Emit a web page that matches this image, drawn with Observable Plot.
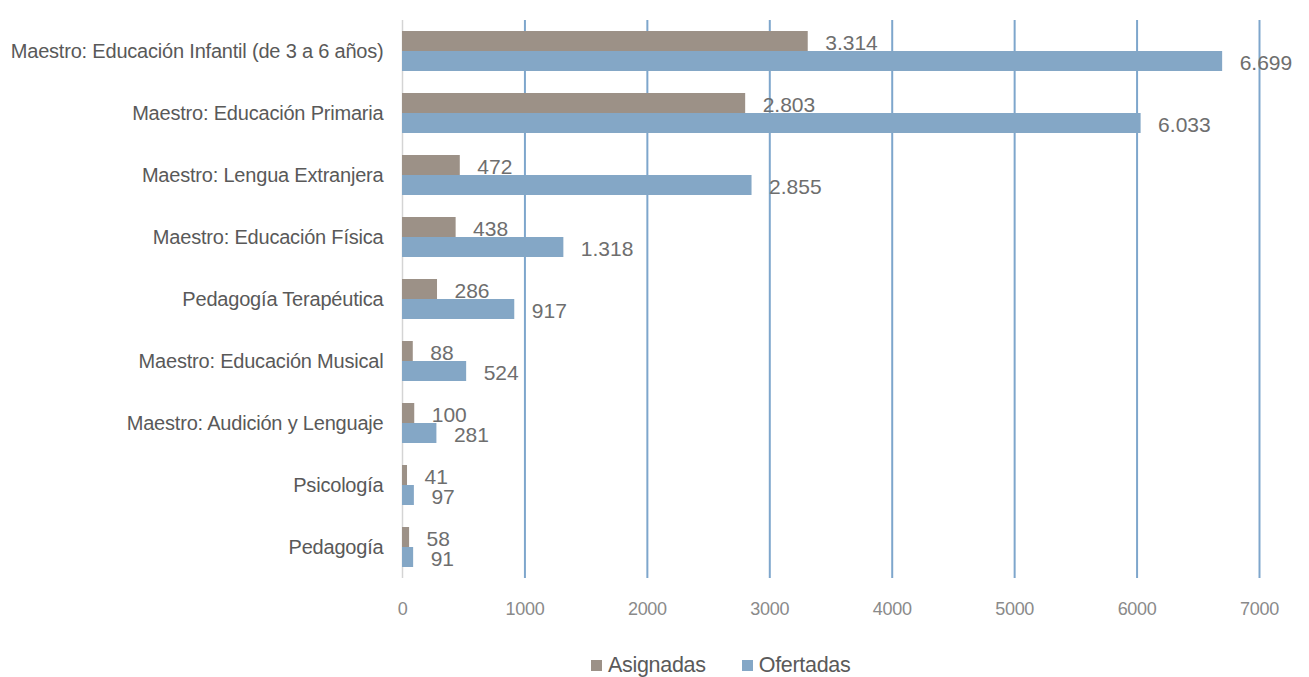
<!DOCTYPE html>
<html>
<head>
<meta charset="utf-8">
<script src="https://cdn.jsdelivr.net/npm/d3@7"></script>
<script src="https://cdn.jsdelivr.net/npm/@observablehq/plot@0.6"></script>
<style>
  html, body { margin: 0; padding: 0; background: #fff; }
  #wrap { position: relative; width: 1309px; height: 677px; }
  svg text { font-family: "Liberation Sans", Arial, sans-serif; }
  g[aria-label="fy-axis tick label"] text {
    font-family: "Liberation Sans", Arial, sans-serif;
    font-size: 20px; fill: #595959; letter-spacing: -0.2px;
  }
  g[aria-label="x-axis tick label"] text {
    font-family: "Liberation Sans", Arial, sans-serif;
    font-size: 18px; fill: #8a8a8a; letter-spacing: -0.3px;
  }
  #legend {
    position: absolute; top: 652px; left: 591px;
    display: flex; align-items: center;
    font-family: "Liberation Sans", Arial, sans-serif;
    font-size: 21.5px; color: #5a5a5a; line-height: 26px; letter-spacing: -0.3px;
  }
  #legend .item { display: flex; align-items: center; margin-right: 36px; }
  #legend .sw { width: 11px; height: 11px; margin-right: 6px; }
</style>
</head>
<body>
<div id="wrap"></div>
<script>
const categories = [
  "Maestro: Educación Infantil (de 3 a 6 años)",
  "Maestro: Educación Primaria",
  "Maestro: Lengua Extranjera",
  "Maestro: Educación Física",
  "Pedagogía Terapéutica",
  "Maestro: Educación Musical",
  "Maestro: Audición y Lenguaje",
  "Psicología",
  "Pedagogía"
];
const series = ["Asignadas", "Ofertadas"];
const asignadas = [3314, 2803, 472, 438, 286, 88, 100, 41, 58];
const ofertadas = [6699, 6033, 2855, 1318, 917, 524, 281, 97, 91];
const xTicks = [0, 1000, 2000, 3000, 4000, 5000, 6000, 7000];
const gridTicks = [1000, 2000, 3000, 4000, 5000, 6000, 7000];
const colors = ["#9c9187", "#84a7c6"];

const rows = [];
categories.forEach((c, i) => {
  rows.push({cat: c, serie: series[0], value: asignadas[i]});
  rows.push({cat: c, serie: series[1], value: ofertadas[i]});
});

const locale = d3.formatLocale({decimal: ",", thousands: ".", grouping: [3], currency: ["", "€"]});
const fmt = locale.format(",d");

const chart = Plot.plot({
  width: 1309,
  height: 640,
  marginTop: 16,
  marginBottom: 58,
  marginLeft: 402,
  marginRight: 50,
  x: {domain: [0, 7000], axis: null},
  y: {domain: series, axis: null, paddingInner: 0, paddingOuter: 0.53},
  fy: {domain: categories, padding: 0, label: null, axis: null},
  color: {domain: series, range: colors},
  marks: [
    Plot.ruleX(gridTicks, {x: d => d, stroke: "#7ea6cc", strokeWidth: 2}),
    Plot.ruleX([0], {stroke: "#d4d4d4", strokeWidth: 1.5}),
    Plot.barX(rows, {fy: "cat", y: "serie", x: "value", fill: "serie"}),
    Plot.text(rows, {
      fy: "cat", y: "serie", x: "value",
      text: d => fmt(d.value),
      textAnchor: "start", dx: 17, dy: 2,
      fontSize: 21, fill: "#6e6e6e", style: "letter-spacing: 0.4px"
    }),
    Plot.axisFy({anchor: "left", tickSize: 0, tickPadding: 19, label: null}),
    Plot.axisX(xTicks, {tickSize: 0, tickPadding: 24, tickFormat: d => String(d), label: null, facetAnchor: "bottom"})
  ]
});

const wrap = document.getElementById("wrap");
wrap.appendChild(chart);

const legend = document.createElement("div");
legend.id = "legend";
series.forEach((s, i) => {
  const item = document.createElement("div");
  item.className = "item";
  const sw = document.createElement("span");
  sw.className = "sw";
  sw.style.background = colors[i];
  const lab = document.createElement("span");
  lab.textContent = s;
  item.appendChild(sw);
  item.appendChild(lab);
  legend.appendChild(item);
});
wrap.appendChild(legend);
</script>
</body>
</html>
